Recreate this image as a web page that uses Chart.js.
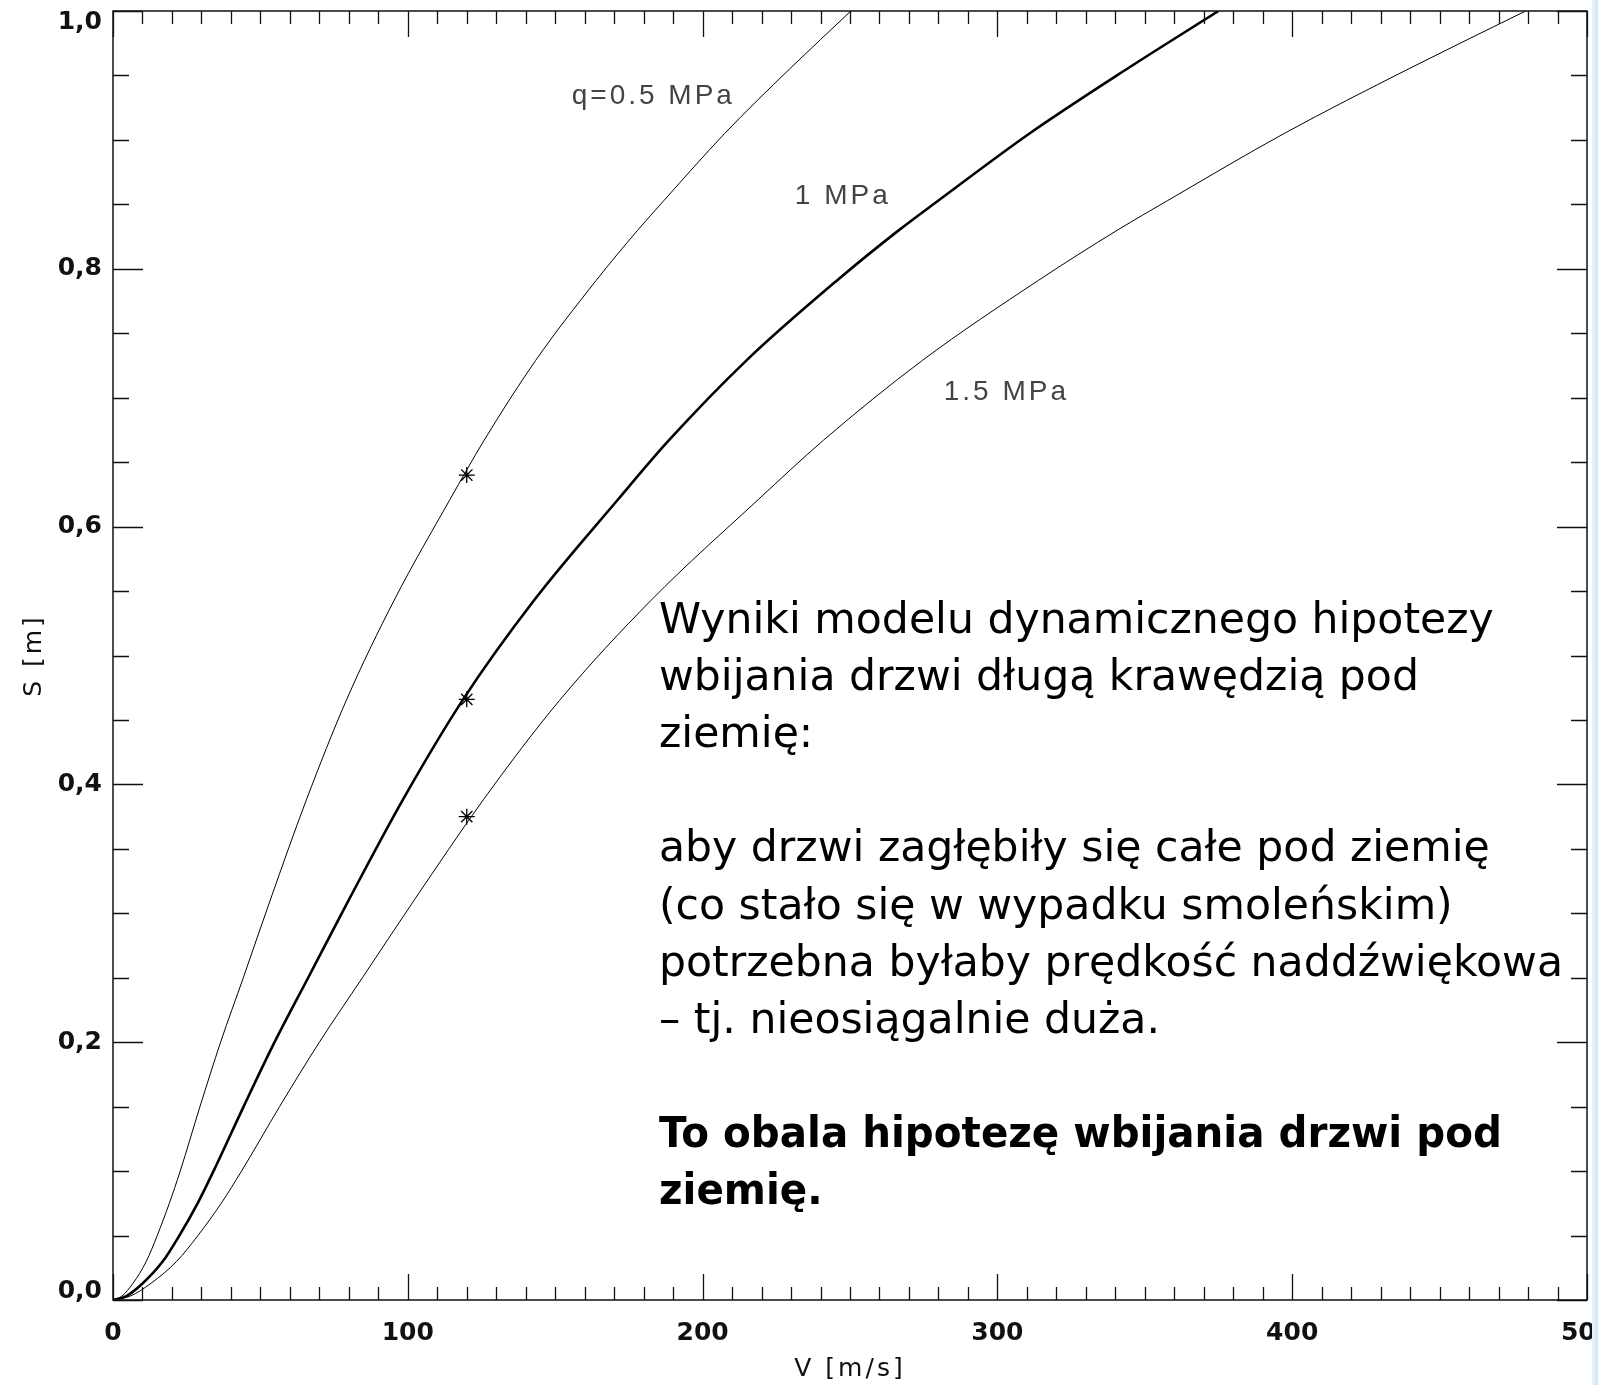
<!DOCTYPE html>
<html>
<head>
<meta charset="utf-8">
<script src="https://cdn.jsdelivr.net/npm/chart.js@4"></script>
<style>
  body { margin: 0; background: #fff; }
  #wrap { position: relative; width: 1598px; height: 1385px; }
  #edge { position: absolute; left: 1592px; top: 0; width: 6px; height: 1385px;
          background: linear-gradient(to right, #e6f2fc, #cfe4f6); }
</style>
</head>
<body>
<div id="wrap">
  <canvas id="c"></canvas>
  <div id="edge"></div>
</div>
<script>
// depth S [m] at which each curve was read
const sLevels = [0, 0.003, 0.013, 0.03, 0.05, 0.075, 0.10, 0.15, 0.20, 0.25, 0.31, 0.388, 0.465, 0.543, 0.621, 0.667, 0.729, 0.791, 0.83, 0.853, 0.905, 0.955, 1.0];
// V [m/s] for q = 0.5, 1, 1.5 MPa
const vQ05 = [0, 3.0, 6.8, 11.3, 15.0, 19.1, 22.8, 29.5, 36.5, 44.2, 53.3, 65.6, 79.1, 95.4, 114.3, 125.9, 143.4, 163.9, 178.0, 186.9, 207.5, 229.5, 250.3];
const vQ10 = [0, 4.5, 10.1, 16.9, 22.5, 28.7, 34.1, 44.3, 54.8, 66.2, 79.9, 98.3, 118.5, 142.9, 171.3, 188.6, 214.9, 245.6, 266.6, 280.0, 310.9, 343.9, 375.0];
const vQ15 = [0, 5.8, 12.9, 21.6, 28.8, 36.7, 43.6, 56.5, 70.0, 84.6, 102.1, 125.6, 151.4, 182.6, 218.9, 241.0, 274.6, 313.9, 340.7, 357.8, 397.3, 439.4, 479.2];
// markers at V = 120 m/s
const starV = [120, 120, 120];
const starS = [0.640, 0.466, 0.375];

const curveLabels = ['q=0.5 MPa', '1 MPa', '1.5 MPa'];
const labelAt = [[155.6, 0.928], [231.3, 0.850], [281.8, 0.698]];

const note = [
  ['Wyniki modelu dynamicznego hipotezy', false],
  ['wbijania drzwi długą krawędzią pod', false],
  ['ziemię:', false],
  ['', false],
  ['aby drzwi zagłębiły się całe pod ziemię', false],
  ['(co stało się w wypadku smoleńskim)', false],
  ['potrzebna byłaby prędkość naddźwiękowa', false],
  ['– tj. nieosiągalnie duża.', false],
  ['', false],
  ['To obala hipotezę wbijania drzwi pod', true],
  ['ziemię.', true]
];

function pts(xs, ys) {
  return xs.map((v, i) => ({ x: v, y: ys[i] }));
}

const frame = {
  id: 'frame',
  afterDraw(chart) {
    const { ctx, chartArea: a, scales: { x, y } } = chart;
    ctx.save();
    ctx.strokeStyle = '#111';
    ctx.lineWidth = 1.5;
    ctx.strokeRect(a.left, a.top, a.right - a.left, a.bottom - a.top);

    ctx.lineWidth = 1.3;
    ctx.beginPath();
    for (let v = 0; v <= 500; v += 10) {
      const px = Math.round(x.getPixelForValue(v)) + 0.5;
      const len = v % 100 === 0 ? 26 : 13;
      ctx.moveTo(px, a.bottom); ctx.lineTo(px, a.bottom - len);
      ctx.moveTo(px, a.top); ctx.lineTo(px, a.top + len);
    }
    for (let i = 0; i <= 20; i++) {
      const py = Math.round(y.getPixelForValue(i * 0.05)) + 0.5;
      const len = i % 4 === 0 ? 30 : 16;
      ctx.moveTo(a.left, py); ctx.lineTo(a.left + len, py);
      ctx.moveTo(a.right, py); ctx.lineTo(a.right - len, py);
    }
    ctx.stroke();

    // tick labels
    ctx.fillStyle = '#111';
    ctx.font = 'bold 25px "DejaVu Sans"';
    ctx.textAlign = 'center';
    ctx.textBaseline = 'middle';
    x.ticks.forEach(t => ctx.fillText(String(t.value), x.getPixelForValue(t.value), 1333));
    ctx.textAlign = 'right';
    y.ticks.forEach(t => {
      let py = y.getPixelForValue(t.value);
      py = Math.min(Math.max(py, a.top + 11), a.bottom - 9);
      ctx.fillText(t.value.toFixed(1).replace('.', ','), a.left - 11, py);
    });

    // axis titles
    ctx.font = '25px "DejaVu Sans"';
    ctx.letterSpacing = '3px';
    ctx.textAlign = 'center';
    ctx.fillText('V [m/s]', (a.left + a.right) / 2, 1369);
    ctx.save();
    ctx.translate(34, (a.top + a.bottom) / 2);
    ctx.rotate(-Math.PI / 2);
    ctx.fillText('S [m]', 0, 0);
    ctx.restore();

    // curve labels
    ctx.font = '28px "Liberation Sans"';
    ctx.fillStyle = '#444';
    ctx.textAlign = 'left';
    ctx.textBaseline = 'alphabetic';
    curveLabels.forEach((s, i) => {
      ctx.fillText(s, x.getPixelForValue(labelAt[i][0]), y.getPixelForValue(labelAt[i][1]));
    });
    ctx.letterSpacing = '0px';

    // note
    ctx.fillStyle = '#000';
    note.forEach(([s, bold], i) => {
      ctx.save();
      ctx.translate(659, 633 + i * 57.1);
      ctx.scale(bold ? 0.94 : 0.99, 1);
      ctx.font = (bold ? 'bold ' : '') + '43px "DejaVu Sans"';
      ctx.fillText(s, 0, 0);
      ctx.restore();
    });
    ctx.restore();
  }
};

new Chart(document.getElementById('c'), {
  type: 'scatter',
  data: {
    datasets: [
      { data: pts(vQ05, sLevels), showLine: true, borderColor: '#000', borderWidth: 1, pointRadius: 0, cubicInterpolationMode: 'monotone' },
      { data: pts(vQ10, sLevels), showLine: true, borderColor: '#000', borderWidth: 2.6, pointRadius: 0, cubicInterpolationMode: 'monotone' },
      { data: pts(vQ15, sLevels), showLine: true, borderColor: '#000', borderWidth: 1, pointRadius: 0, cubicInterpolationMode: 'monotone' },
      { data: pts(starV, starS), showLine: false, pointStyle: 'star', pointRadius: 8, borderColor: '#000', borderWidth: 1.3 }
    ]
  },
  options: {
    responsive: true,
    maintainAspectRatio: false,
    animation: false,
    layout: { padding: { top: 11, right: 11, left: 0, bottom: 0 } },
    plugins: { legend: { display: false }, tooltip: { enabled: false } },
    scales: {
      x: {
        type: 'linear', min: 0, max: 500,
        ticks: { display: false, stepSize: 100 },
        grid: { display: false }, border: { display: false },
        afterFit(s) { s.height = 85; }
      },
      y: {
        type: 'linear', min: 0, max: 1,
        ticks: { display: false, stepSize: 0.2 },
        grid: { display: false }, border: { display: false },
        afterFit(s) { s.width = 113; }
      }
    }
  },
  plugins: [frame]
});
</script>
</body>
</html>
